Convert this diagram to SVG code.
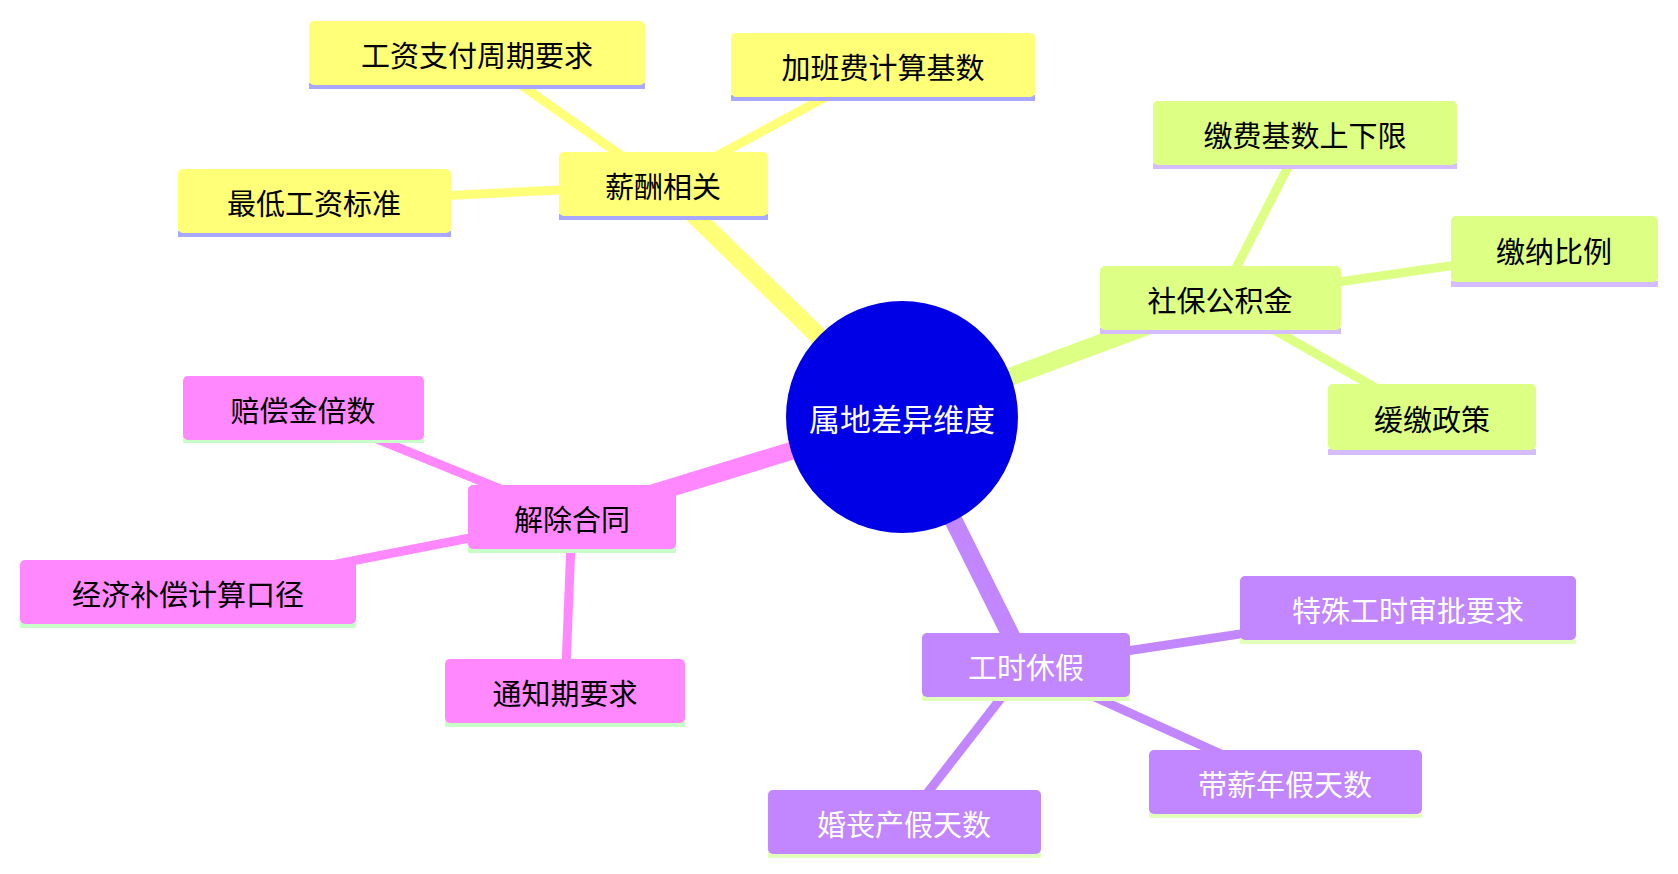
<svg xmlns="http://www.w3.org/2000/svg" width="1678" height="874" viewBox="0 0 1678 874">
<style>
text{font-family:"Noto Sans CJK SC","Noto Sans",sans-serif;font-size:29px;text-anchor:middle;dominant-baseline:central}
.e{fill:none;stroke-linecap:butt}
.y{fill:#ffff78}.yl{stroke:#ffff78}.yu{fill:#a8a8ff}
.g{fill:#dcff84}.gl{stroke:#dcff84}.gu{fill:#d4bcff}
.p{fill:#ff88ff}.pl{stroke:#ff88ff}.pu{fill:#c8ffc8}
.v{fill:#c286ff}.vl{stroke:#c286ff}.vu{fill:#e2ffbc}
.w{fill:#ffffff}.k{fill:#000}
</style>
<rect width="1678" height="874" fill="#fff"/>
<g id="connectors" class="e">
<line class="yl" x1="902" y1="417" x2="663" y2="185" stroke-width="18"/>
<line class="gl" x1="902" y1="417" x2="1220" y2="299" stroke-width="18"/>
<line class="pl" x1="902" y1="417" x2="572" y2="518" stroke-width="18"/>
<line class="vl" x1="902" y1="417" x2="1026" y2="666" stroke-width="18"/>
<line class="yl" x1="663" y1="185" x2="477" y2="54" stroke-width="9"/>
<line class="yl" x1="663" y1="185" x2="883" y2="66" stroke-width="9"/>
<line class="yl" x1="663" y1="185" x2="314" y2="202" stroke-width="9"/>
<line class="gl" x1="1220" y1="299" x2="1305" y2="134" stroke-width="9"/>
<line class="gl" x1="1220" y1="299" x2="1554" y2="251" stroke-width="9"/>
<line class="gl" x1="1220" y1="299" x2="1432" y2="420" stroke-width="9"/>
<line class="pl" x1="572" y1="518" x2="303" y2="409" stroke-width="9"/>
<line class="pl" x1="572" y1="518" x2="188" y2="593" stroke-width="9"/>
<line class="pl" x1="572" y1="518" x2="565" y2="692" stroke-width="9"/>
<line class="vl" x1="1026" y1="666" x2="1408" y2="609" stroke-width="9"/>
<line class="vl" x1="1026" y1="666" x2="1285" y2="783" stroke-width="9"/>
<line class="vl" x1="1026" y1="666" x2="904" y2="823" stroke-width="9"/>
</g>
<g id="root"><circle cx="902" cy="417" r="116" fill="#0000e6"/><text x="902" y="417" class="w" style="font-size:31px">属地差异维度</text></g>
<g id="n1"><rect class="yu" x="559" y="214" width="209" height="6"/><rect class="y" x="559" y="152" width="209" height="64" rx="5"/><text x="663" y="185" class="k">薪酬相关</text></g>
<g id="n1a"><rect class="yu" x="309" y="83" width="336" height="6"/><rect class="y" x="309" y="21" width="336" height="64" rx="5"/><text x="477" y="54" class="k">工资支付周期要求</text></g>
<g id="n1b"><rect class="yu" x="731" y="95" width="304" height="6"/><rect class="y" x="731" y="33" width="304" height="64" rx="5"/><text x="883" y="66" class="k">加班费计算基数</text></g>
<g id="n1c"><rect class="yu" x="178" y="231" width="273" height="6"/><rect class="y" x="178" y="169" width="273" height="64" rx="5"/><text x="314" y="202" class="k">最低工资标准</text></g>
<g id="n2"><rect class="gu" x="1100" y="328" width="241" height="6"/><rect class="g" x="1100" y="266" width="241" height="64" rx="5"/><text x="1220" y="299" class="k">社保公积金</text></g>
<g id="n2a"><rect class="gu" x="1153" y="163" width="304" height="6"/><rect class="g" x="1153" y="101" width="304" height="64" rx="5"/><text x="1305" y="134" class="k">缴费基数上下限</text></g>
<g id="n2b"><rect class="gu" x="1451" y="281" width="207" height="6"/><rect class="g" x="1451" y="216" width="207" height="66" rx="5"/><text x="1554" y="250" class="k">缴纳比例</text></g>
<g id="n2c"><rect class="gu" x="1328" y="449" width="208" height="6"/><rect class="g" x="1328" y="384" width="208" height="66" rx="5"/><text x="1432" y="418" class="k">缓缴政策</text></g>
<g id="n3"><rect class="pu" x="468" y="547" width="208" height="6"/><rect class="p" x="468" y="485" width="208" height="64" rx="5"/><text x="572" y="518" class="k">解除合同</text></g>
<g id="n3a"><rect class="pu" x="183" y="437" width="241" height="6"/><rect class="p" x="183" y="376" width="241" height="64" rx="5"/><text x="303" y="409" class="k">赔偿金倍数</text></g>
<g id="n3b"><rect class="pu" x="20" y="622" width="336" height="6"/><rect class="p" x="20" y="560" width="336" height="64" rx="5"/><text x="188" y="593" class="k">经济补偿计算口径</text></g>
<g id="n3c"><rect class="pu" x="445" y="721" width="240" height="6"/><rect class="p" x="445" y="659" width="240" height="64" rx="5"/><text x="565" y="692" class="k">通知期要求</text></g>
<g id="n4"><rect class="vu" x="922" y="695" width="208" height="6"/><rect class="v" x="922" y="633" width="208" height="64" rx="5"/><text x="1026" y="666" class="w">工时休假</text></g>
<g id="n4a"><rect class="vu" x="1240" y="638" width="336" height="6"/><rect class="v" x="1240" y="576" width="336" height="64" rx="5"/><text x="1408" y="609" class="w">特殊工时审批要求</text></g>
<g id="n4b"><rect class="vu" x="1149" y="812" width="273" height="6"/><rect class="v" x="1149" y="750" width="273" height="64" rx="5"/><text x="1285" y="783" class="w">带薪年假天数</text></g>
<g id="n4c"><rect class="vu" x="768" y="852" width="273" height="6"/><rect class="v" x="768" y="790" width="273" height="64" rx="5"/><text x="904" y="823" class="w">婚丧产假天数</text></g>
</svg>
